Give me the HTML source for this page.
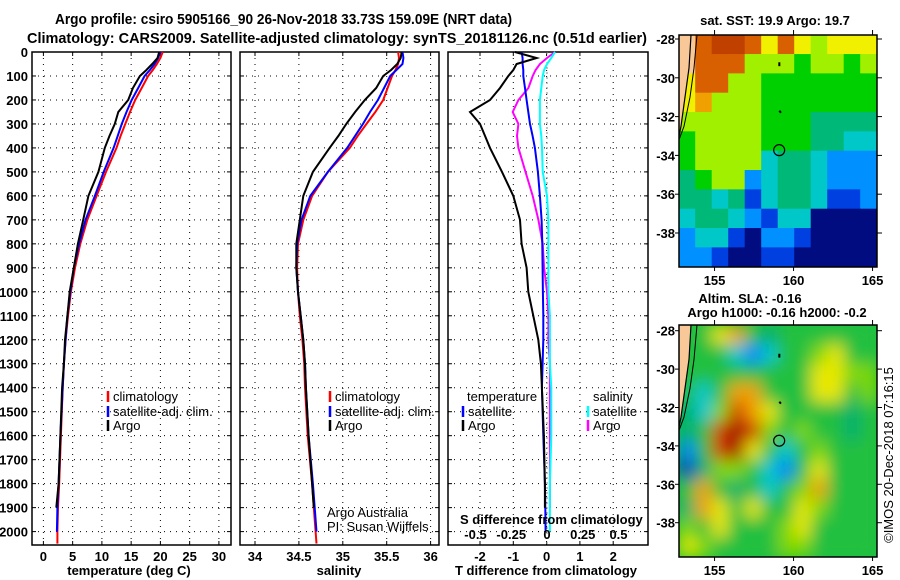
<!DOCTYPE html>
<html><head><meta charset="utf-8"><style>
body{margin:0;background:#fff}
svg{display:block;font-family:"Liberation Sans",sans-serif}
.tk{font-size:13px;font-weight:bold}
.lg{font-size:13px}
</style></head><body>
<svg id="c" width="900" height="580" viewBox="0 0 900 580" xmlns="http://www.w3.org/2000/svg">
<text x="55" y="24" textLength="457" lengthAdjust="spacingAndGlyphs" font-size="15" font-weight="bold">Argo profile: csiro 5905166_90 26-Nov-2018 33.73S 159.09E (NRT data)</text>
<text x="27" y="43" textLength="620" lengthAdjust="spacingAndGlyphs" font-size="15" font-weight="bold">Climatology: CARS2009. Satellite-adjusted climatology: synTS_20181126.nc (0.51d earlier)</text>
<g id="g"></g>
</svg>
<script>
const depth=[0,25,50,75,100,150,200,250,300,350,400,500,600,700,800,900,1000,1100,1200,1300,1400,1600,1800,1900,2000,2050];
const tClim=[20.4,20.0,19.4,18.7,17.9,16.8,15.7,14.8,14.0,13.2,12.5,10.7,9.1,7.5,6.3,5.4,4.7,4.2,3.8,3.5,3.3,3.0,2.7,2.5,2.4,2.4];
const tSat=[20.0,19.6,19.0,18.2,17.3,16.2,15.1,14.2,13.4,12.7,12.0,10.3,8.8,7.2,6.1,5.2,4.6,4.1,3.8,3.5,3.3,2.9,2.6,2.4,2.3,null];
const tArgo=[19.8,19.5,18.6,17.6,16.5,15.3,14.5,12.8,12.2,11.3,10.5,9.4,7.7,6.8,5.9,5.2,4.5,4.1,3.7,3.5,3.2,2.9,2.6,2.2,null,null];
const sClim=[35.63,35.64,35.63,35.60,35.56,35.51,35.46,35.37,35.27,35.17,35.08,34.83,34.65,34.55,34.49,34.48,34.49,34.51,34.54,34.56,34.57,34.60,34.65,34.67,34.69,34.70];
const sSat=[35.68,35.69,35.68,35.61,35.54,35.47,35.40,35.31,35.23,35.14,35.05,34.83,34.63,34.53,34.48,34.47,34.49,34.52,34.55,34.57,34.58,34.61,34.66,34.68,34.70,null];
const sArgo=[35.67,35.66,35.62,35.55,35.46,35.38,35.25,35.14,35.04,34.95,34.85,34.66,34.55,34.51,34.47,34.47,34.49,34.52,34.55,34.57,34.58,34.61,34.65,34.67,null,null];
const dtArgo=[-0.95,-0.3,-0.9,-1.0,-1.15,-1.4,-1.7,-2.3,-2.0,-1.85,-1.7,-1.34,-1.0,-0.8,-0.75,-0.6,-0.55,-0.4,-0.25,-0.17,-0.14,-0.08,-0.05,-0.05,null,null];
const dtSat=[-0.75,-0.72,-0.72,-0.7,-0.7,-0.65,-0.6,-0.55,-0.5,-0.42,-0.35,-0.26,-0.2,-0.15,-0.13,-0.12,-0.11,-0.1,-0.1,-0.12,-0.14,-0.1,-0.05,-0.04,-0.03,null];
const dsArgo=[0.056,0.0,-0.05,-0.08,-0.1,-0.13,-0.2,-0.24,-0.2,-0.21,-0.2,-0.15,-0.1,-0.06,-0.03,-0.02,0,0.01,0.01,0.02,0.02,0.02,0.02,0.02,null,null];
const dsSat=[0.056,0.03,0,-0.02,-0.03,-0.04,-0.05,-0.05,-0.05,-0.04,-0.035,-0.03,0,0.01,0.01,0.01,0.01,0.02,0.02,0.02,0.03,0.03,0.02,0.02,0.02,null];
const depthTicks=[0,100,200,300,400,500,600,700,800,900,1000,1100,1200,1300,1400,1500,1600,1700,1800,1900,2000];
const tTicks=[0,5,10,15,20,25,30];
const sTicks=[34,34.5,35,35.5,36];
const dtTicks=[-2,-1,0,1,2];
const dsTicks=[-0.5,-0.25,0,0.25,0.5];
const dsTickLabels=["-0.5","-0.25","0","0.25","0.5"];
const lonTicks=[155,160,165];
const latTicks=[-28,-30,-32,-34,-36,-38];
const sstGrid=[
"L9aa97976777","L99966656656","799665555555","786665555555","666665554444","566665554433",
"566663443222","456623443222","443413443112","344321330000","233102210000","221001100000"];
const slaGrid=[
"L46743444444","L44212445644","L44444446655","424774446645","325876444434","348985454434",
"148964245444","035542146444","474342457444","376464465444","546444564444","654444554444"];
const sstCols={"0":"#000c80","1":"#0040e0","2":"#0090ff","3":"#00c8c8","4":"#00b878","5":"#00d000","6":"#a0f000","7":"#f0f000","8":"#f0a000","9":"#d86000","a":"#c04000","L":"#f8c898"};
const slaCols={"0":"#0030c0","1":"#0080ff","2":"#00c8d0","3":"#00b070","4":"#20c040","5":"#80d800","6":"#e8e800","7":"#f0a000","8":"#d04000","9":"#a00000","L":"#20c040"};

const NS="http://www.w3.org/2000/svg";
const G=document.getElementById('g');
function el(t,a,p){const e=document.createElementNS(NS,t);for(const k in a)e.setAttribute(k,a[k]);(p||G).appendChild(e);return e;}
const y0=52,ky=0.2398,yB=545;
const yD=d=>y0+d*ky;
const P1={l:32,r:231,x:v=>43.4+v*5.85};
const P2={l:240,r:439,x:v=>255+(v-34)*87.8};
const P3={l:448,r:648,x:v=>546.6+v*33.3};
const xS=v=>547+v*143;

function grid(P,ticks,fx,name,labels){
  const g=el('g',{});
  
  
  depthTicks.forEach(d=>{if(d>0)el('line',{x1:P.l,x2:P.r,y1:yD(d),y2:yD(d),stroke:'#000','stroke-width':1,'stroke-dasharray':'1,5'},g);});
  ticks.forEach((t,i)=>{const x=fx(t);
    el('line',{x1:x,x2:x,y1:y0,y2:yB,stroke:'#000','stroke-width':1,'stroke-dasharray':'1,5'},g);
    el('line',{x1:x,x2:x,y1:yB,y2:yB-4,stroke:'#000'},g);el('line',{x1:x,x2:x,y1:y0,y2:y0+4,stroke:'#000'},g);
    const tx=el('text',{x:x,y:561,'text-anchor':'middle',class:'tk'},g);tx.textContent=labels?labels[i]:t;
    
    
  });
  depthTicks.forEach(d=>{el('line',{x1:P.l,x2:P.l+4,y1:yD(d),y2:yD(d),stroke:'#000'},g);el('line',{x1:P.r,x2:P.r-4,y1:yD(d),y2:yD(d),stroke:'#000'},g);});
  const fr=el('rect',{x:P.l,y:y0,width:P.r-P.l,height:yB-y0,fill:'none',stroke:'#000','stroke-width':1.5},g);
  
  
}
grid(P1,tTicks,P1.x,'temperature-panel');
grid(P2,sTicks,P2.x,'salinity-panel');
grid(P3,dtTicks,P3.x,'difference-panel');
el('line',{x1:xS(0),x2:xS(0),y1:y0,y2:yB,stroke:'#888','stroke-width':1,'stroke-dasharray':'2,3'});
depthTicks.forEach(d=>{const t=el('text',{x:28,y:yD(d)+5,'text-anchor':'end',class:'tk'});t.textContent=d;
  
  });

function line(vals,fx,col,name){
  const pts=[];depth.forEach((d,i)=>{if(vals[i]!==null)pts.push(fx(vals[i]).toFixed(1)+','+yD(d).toFixed(1));});
  const p=el('polyline',{points:pts.join(' '),fill:'none',stroke:col,'stroke-width':2});
  
  
}
line(tClim,P1.x,'#ff0000','temperature-climatology-line');
line(tSat,P1.x,'#0000ff','temperature-satellite-line');
line(tArgo,P1.x,'#000','temperature-argo-line');
line(sClim,P2.x,'#ff0000','salinity-climatology-line');
line(sSat,P2.x,'#0000ff','salinity-satellite-line');
line(sArgo,P2.x,'#000','salinity-argo-line');
line(dsArgo,xS,'#ff00ff','s-diff-argo-line');
line(dsSat,xS,'#00ffff','s-diff-satellite-line');
line(dtSat,P3.x,'#0000ff','t-diff-satellite-line');
line(dtArgo,P3.x,'#000','t-diff-argo-line');

function txt(x,y,s,cls,name,anchor){const t=el('text',{x:x,y:y,class:cls,'text-anchor':anchor||'start'});t.textContent=s;
  
  return t;}
function leg(x,y,col,s,name){el('line',{x1:x,x2:x,y1:y-10,y2:y+1,stroke:col,'stroke-width':2.5});txt(x+5,y,s,'lg',name);}
leg(108,401,'#f00','climatology','legend-climatology');
leg(108,416,'#00f','satellite-adj. clim.','legend-satellite');
leg(108,430,'#000','Argo','legend-argo');
leg(330,401,'#f00','climatology','legend-climatology-s');
leg(330,416,'#00f','satellite-adj. clim.','legend-satellite-s');
leg(330,430,'#000','Argo','legend-argo-s');
txt(467,401,'temperature','lg','legend-temperature-header');
txt(593,401,'salinity','lg','legend-salinity-header');
leg(463,416,'#00f','satellite','legend-t-satellite');
leg(463,430,'#000','Argo','legend-t-argo');
leg(588,416,'#0ff','satellite','legend-s-satellite');
leg(588,430,'#f0f','Argo','legend-s-argo');
txt(327,517,'Argo Australia','lg','credit-argo-australia');
txt(327,531,'PI: Susan Wijffels','lg','credit-pi');
txt(460,524,'S difference from climatology','tk','s-axis-title');
dsTicks.forEach((v,i)=>txt(xS(v),539,dsTickLabels[i],'tk','s-tick-label','middle'));
txt(129,575,'temperature (deg C)','tk','x-axis-title-temperature','middle');
txt(339,575,'salinity','tk','x-axis-title-salinity','middle');
txt(546,575,'T difference from climatology','tk','x-axis-title-tdiff','middle');

function map(M,grd,cols,name,blur){
  const g=el('g',{});
  
  
  const id='clip'+name;const cp=el('clipPath',{id:id},g);el('rect',{x:M.l,y:M.t,width:M.r-M.l,height:M.b-M.t},cp);
  const inner=el('g',{'clip-path':'url(#'+id+')'},g);
  if(blur)el('rect',{x:M.l,y:M.t,width:M.r-M.l,height:M.b-M.t,fill:'#20c040'},inner);
  const cells=el('g',blur?{filter:'url(#bl)'}:{},inner);
  const nr=grd.length,nc=grd[0].length,cw=(M.r-M.l)/nc,ch=(M.b-M.t)/nr;
  grd.forEach((row,r)=>{[...row].forEach((c,k)=>{el('rect',{x:M.l+k*cw-0.3,y:M.t+r*ch-0.3,width:cw+0.6,height:ch+0.6,fill:cols[c]},cells);});});
  const lx=v=>M.l+(v-152.75)*15.8, ly=v=>M.y28+(-28-v)*M.ky;
  el('path',{d:`M${M.l},${M.t} L691,${M.t} L689,${ly(-29.5)} L685,${ly(-31)} L681,${ly(-32.5)} L${M.l},${ly(-33)} Z`,fill:'#f8c898'},inner);
  el('path',{d:`M691,${M.t} L689,${ly(-29.5)} L685,${ly(-31)} L681,${ly(-32.5)} L${M.l},${ly(-33)}`,fill:'none',stroke:'#000','stroke-width':1.2},inner);
  el('path',{d:`M697,${M.t} L694,${ly(-29.5)} L690,${ly(-31)} L684,${ly(-32.5)} L${M.l},${ly(-33.2)}`,fill:'none',stroke:'#000','stroke-width':1},inner);
  el('line',{x1:lx(159.1),x2:lx(159.1),y1:ly(-29.2),y2:ly(-29.4),stroke:'#000','stroke-width':2},inner);
  el('line',{x1:lx(159.1),x2:lx(159.2),y1:ly(-31.7),y2:ly(-31.8),stroke:'#000','stroke-width':2},inner);
  const c=el('circle',{cx:lx(159.09),cy:ly(-33.73),r:5.5,fill:'none',stroke:'#000','stroke-width':1.2},g);
  
  
  el('rect',{x:M.l,y:M.t,width:M.r-M.l,height:M.b-M.t,fill:'none',stroke:'#000','stroke-width':1.5},g);
  lonTicks.forEach(v=>{el('line',{x1:lx(v),x2:lx(v),y1:M.t,y2:M.t-5,stroke:'#000'},g);el('line',{x1:lx(v),x2:lx(v),y1:M.b,y2:M.b+4,stroke:'#000'},g);
    txt(lx(v),M.b+18,v,'tk','lon-tick-label','middle');});
  latTicks.forEach(v=>{el('line',{x1:M.r,x2:M.r+5,y1:ly(v),y2:ly(v),stroke:'#000'},g);el('line',{x1:M.l,x2:M.l-4,y1:ly(v),y2:ly(v),stroke:'#000'},g);
    txt(M.l-4,ly(v)+5,v,'tk','lat-tick-label','end');});
}
const defs=el('defs',{});const f=el('filter',{id:'bl',x:'-5%',y:'-5%',width:'110%',height:'110%'},defs);el('feGaussianBlur',{stdDeviation:8},f);
map({l:679,r:877,t:35,b:267,y28:39,ky:19.4},sstGrid,sstCols,'sst-map',false);
map({l:679,r:877,t:325,b:557,y28:330.7,ky:19.2},slaGrid,slaCols,'sla-map',true);
txt(775,25,'sat. SST: 19.9 Argo: 19.7','tk','sst-map-title','middle');
txt(750,303,'Altim. SLA: -0.16','tk','sla-map-title','middle');
txt(777,317,'Argo h1000: -0.16 h2000: -0.2','tk','sla-map-subtitle','middle');
const r=txt(0,0,'©IMOS 20-Dec-2018 07:16:15','lg','imos-timestamp','middle');
r.setAttribute('transform','translate(893,455) rotate(-90)');
</script>
</body></html>
